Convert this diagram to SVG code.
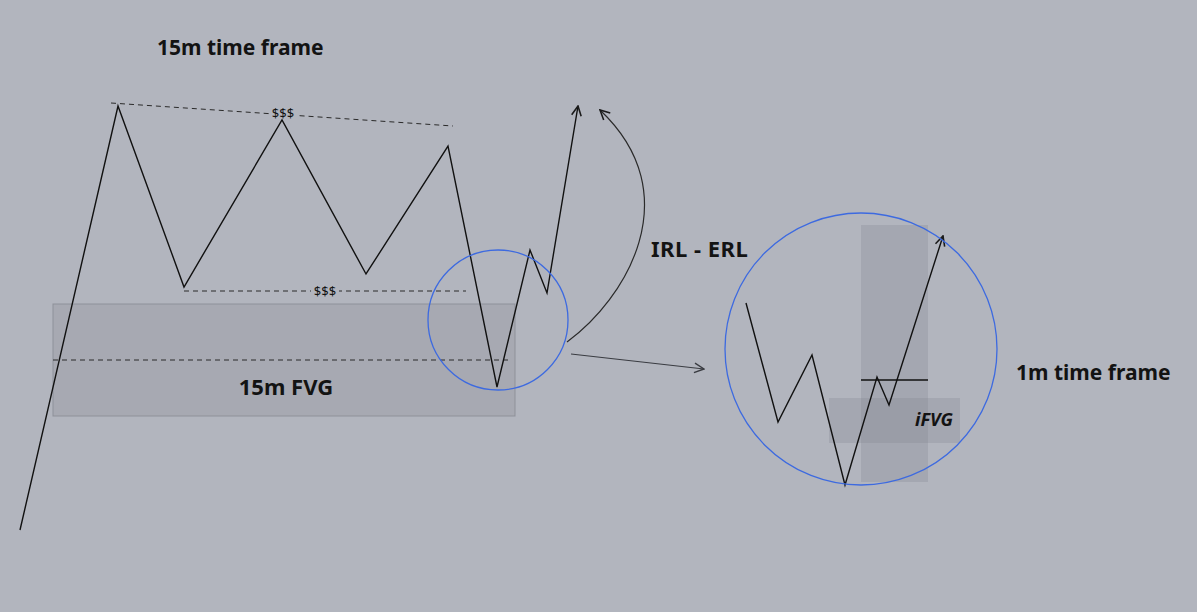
<svg xmlns="http://www.w3.org/2000/svg" width="1197" height="612" viewBox="0 0 1197 612">
<defs>
<marker id="arr" viewBox="0 0 10 10" refX="9" refY="5" markerWidth="12" markerHeight="12" markerUnits="userSpaceOnUse" orient="auto">
<path d="M1,1 L9,5 L1,9" fill="none" stroke="#1a1a1a" stroke-width="1.3"/>
</marker>
<marker id="arrg" viewBox="0 0 10 10" refX="9" refY="5" markerWidth="12" markerHeight="12" markerUnits="userSpaceOnUse" orient="auto">
<path d="M1,1 L9,5 L1,9" fill="none" stroke="#3a3c42" stroke-width="1.2"/>
</marker>
</defs>
<style>
.lbl{font-family:"Noto Sans","Open Sans",sans-serif;font-weight:bold;font-size:21px;fill:#131313}
.small{font-family:"Noto Sans","Open Sans",sans-serif;font-size:13px;fill:#131313}
.price{fill:none;stroke:#111;stroke-width:1.4;stroke-linejoin:miter}
.dash{stroke:#2a2a2a;stroke-width:1;stroke-dasharray:5 4;fill:none}
.circ{fill:none;stroke:#3d6ae0;stroke-width:1.3}
.zone{fill:#7d808a;fill-opacity:0.25}
</style>
<rect width="1197" height="612" fill="#b2b5be"/>
<g id="fvg15">
<rect x="53" y="304" width="462" height="112" fill="#a7a9b2" stroke="#8e9199" stroke-width="1"/>
<line x1="53" y1="360" x2="510" y2="360" class="dash"/>
<text x="286" y="395" text-anchor="middle" class="lbl" style="font-size:22px">15m FVG</text>
</g>
<g id="liquidity-top">
<line x1="111" y1="103" x2="453" y2="126" class="dash"/>
<rect x="269" y="106" width="28" height="13" fill="#b2b5be"/>
<text x="283" y="118" text-anchor="middle" class="small">$$$</text>
</g>
<g id="liquidity-bottom">
<line x1="184" y1="291" x2="466" y2="291" class="dash"/>
<rect x="311" y="284" width="28" height="13" fill="#b2b5be"/>
<text x="325" y="296" text-anchor="middle" class="small">$$$</text>
</g>
<g id="price15">
<polyline class="price" points="20,530 118,106 184,287 282,120 366,274 448,146 497,387 530,250 547,293 578,106" marker-end="url(#arr)"/>
</g>
<g id="zoom-circle">
<circle cx="498" cy="320" r="70" class="circ"/>
</g>
<g id="title15">
<text x="157" y="55" class="lbl">15m time frame</text>
</g>
<g id="irl-erl">
<text x="651" y="257" class="lbl" style="font-size:22px;letter-spacing:0.5px">IRL - ERL</text>
</g>
<g id="m1">
<rect x="861" y="225" width="67" height="257" class="zone"/>
<rect x="829" y="398" width="131" height="45" class="zone"/>
<line x1="861" y1="380" x2="928" y2="380" stroke="#111" stroke-width="1.3"/>
<polyline class="price" points="746,303 778,422 812,355 845,485 877,377 889,405 943,236" marker-end="url(#arr)"/>
<text x="915" y="426" class="lbl" style="font-style:italic;font-size:18px">iFVG</text>
<circle cx="861" cy="349" r="136" class="circ"/>
</g>
<g id="title1">
<text x="1016" y="380" class="lbl">1m time frame</text>
</g>
<g id="connectors">
<path d="M567,342 C625,300 690,195 600,110" fill="none" stroke="#2a2a2a" stroke-width="1.2" marker-end="url(#arr)"/>
<line x1="571" y1="354" x2="704" y2="369" stroke="#3a3c42" stroke-width="1.2" marker-end="url(#arrg)"/>
</g>
</svg>
